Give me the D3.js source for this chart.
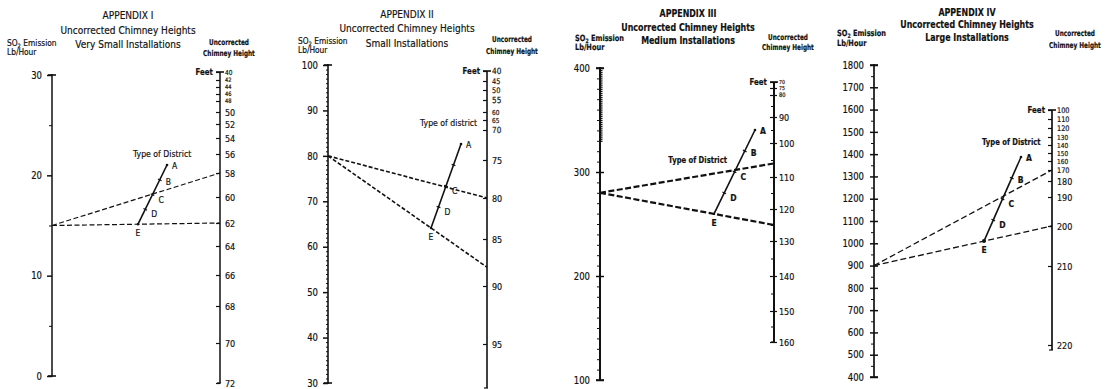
<!DOCTYPE html>
<html>
<head>
<meta charset="utf-8">
<script src="https://cdn.jsdelivr.net/npm/d3@7"></script>
<style>
  body { margin: 0; background: #fff; }
  text { font-family: 'DejaVu Sans', 'Liberation Sans', sans-serif; fill: #111; stroke: #111; stroke-width: 0.2px; }
</style>
</head>
<body>
<svg id="chart" width="1112" height="389"></svg>
<script>
const appendixNumbers = ['I', 'II', 'III', 'IV'];
const installationSizes = ['Very Small Installations', 'Small Installations', 'Medium Installations', 'Large Installations'];
const districtCaptions = ['Type of District', 'Type of district', 'Type of District', 'Type of District'];
const emissionTicks = [
  [0, 10, 20, 30],
  [30, 40, 50, 60, 70, 80, 90, 100],
  [100, 200, 300, 400],
  [400, 500, 600, 700, 800, 900, 1000, 1100, 1200, 1300, 1400, 1500, 1600, 1700, 1800]
];
const heightTicks = [
  [40, 42, 44, 46, 48, 50, 52, 54, 56, 58, 60, 62, 64, 66, 68, 70, 72],
  [40, 45, 50, 55, 60, 65, 70, 75, 80, 85, 90, 95],
  [70, 75, 80, 90, 100, 110, 120, 130, 140, 150, 160],
  [100, 110, 120, 130, 140, 150, 160, 170, 180, 190, 200, 210, 220]
];
const districtTypes = ['E', 'D', 'C', 'B', 'A'];
const districtLabels = [['A', 'B', 'C', 'D', 'E'], ['A', 'C', 'D', 'E'], ['A', 'B', 'C', 'D', 'E'], ['A', 'B', 'C', 'D', 'E']];
// worked example on each chart: one emission rate, read through district C and district E
const exampleEmission = [15, 80, 280, 900];
const exampleHeightC = [58, 80, 106, 170];
const exampleHeightE = [62, 88, 125, 200];

// ---- layout of each printed chart (pixels) ----
const panels = [
  { leftX: 52, emisRange: [376, 75], minorStep: 5, rightX: 220, rightEnd: 383,
    gradY: [72, 80, 87, 94, 101, 112, 124, 138, 154, 173, 197, 223, 246, 275, 306, 343, 383],
    titleX: 128, titleY: [19, 34, 48], emisX: 7, emisY: [46, 55], chimX: 229, chimY: [45, 56],
    distE: 138, distA: [167, 165], caption: [133, 157, 'start'], weight: 1.5, dash: '5,2.5', dashW: 1.2, bold: false },
  { leftX: 328, emisRange: [383, 65], minorStep: 1, rightX: 487, rightEnd: 388,
    gradY: [71, 81, 90, 100, 112, 120, 130, 160, 198, 239, 286, 344],
    titleX: 407, titleY: [18, 32, 47], emisX: 298, emisY: [44, 53], chimX: 512, chimY: [42, 54],
    distE: 431, distA: [461, 144], caption: [420, 126, 'start'], weight: 1.6, dash: '4,2', dashW: 1.6, bold: false },
  { leftX: 600, emisRange: [380, 68], minorStep: 10, rightX: 774, rightEnd: 342,
    gradY: [82, 88, 95, 117, 143, 177, 209, 241, 276, 311, 342],
    titleX: 688, titleY: [17, 31, 44], emisX: 575, emisY: [41, 50], chimX: 788, chimY: [40, 50],
    distE: 714, distA: [755, 130], caption: [727, 163, 'end'], weight: 2, dash: '6,2.5', dashW: 2.2, bold: true },
  { leftX: 874, emisRange: [377, 65], minorStep: 50, rightX: 1052, rightEnd: 350,
    gradY: [110, 119, 128, 137, 145, 153, 161, 170, 181, 197, 226, 266, 345],
    titleX: 967, titleY: [16, 28, 41], emisX: 837, emisY: [36, 46], chimX: 1075, chimY: [36, 48],
    distE: 984, distA: [1021, 157], caption: [982, 145, 'start'], weight: 1.7, dash: '6,3', dashW: 1.3, bold: true }
];

const svg = d3.select('#chart');
const ink = '#111';

// the printed lettering is condensed: squeeze text horizontally around its anchor
function narrow(sel, sx) {
  sel.each(function () {
    const t = d3.select(this);
    const x = +t.attr('x') || 0;
    t.attr('x', x / sx).attr('transform', `scale(${sx},1)`);
  });
}

panels.forEach((p, i) => {
  const g = svg.append('g');

  // scales: emission is linear, chimney height follows the printed graduation
  const emis = d3.scaleLinear().domain(d3.extent(emissionTicks[i])).range(p.emisRange);
  const height = d3.scaleLinear().domain(heightTicks[i]).range(p.gradY);

  // titles
  const titleLines = ['APPENDIX ' + appendixNumbers[i], 'Uncorrected Chimney Heights', installationSizes[i]];
  g.selectAll('.title').data(titleLines).join('text')
    .attr('x', p.titleX).attr('y', (d, k) => p.titleY[k])
    .attr('text-anchor', 'middle')
    .style('font-size', '11px')
    .style('font-weight', p.bold ? 'bold' : 'normal')
    .text(d => d)
    .call(narrow, p.bold ? 0.72 : 0.82);

  // left axis caption
  const so2 = g.append('text').attr('x', p.emisX).attr('y', p.emisY[0])
    .style('font-size', '8.5px').style('font-weight', p.bold ? 'bold' : 'normal');
  so2.append('tspan').text('SO');
  so2.append('tspan').attr('dy', 2).style('font-size', '6px').text('2');
  so2.append('tspan').attr('dy', -2).text(' Emission');
  so2.call(narrow, p.bold ? 0.78 : 0.88);
  g.append('text').attr('x', p.emisX).attr('y', p.emisY[1])
    .style('font-size', '8.5px').style('font-weight', p.bold ? 'bold' : 'normal').text('Lb/Hour')
    .call(narrow, p.bold ? 0.78 : 0.88);

  // right axis caption
  g.selectAll('.chim').data(['Uncorrected', 'Chimney Height']).join('text')
    .attr('x', p.chimX).attr('y', (d, k) => p.chimY[k])
    .attr('text-anchor', 'middle')
    .style('font-size', '8px').style('font-weight', 'bold')
    .text(d => d)
    .call(narrow, 0.72);

  // ---- emission axis ----
  const [lo, hi] = d3.extent(emissionTicks[i]);
  const minorVals = d3.range(lo, hi + 0.001, p.minorStep).filter(v => !emissionTicks[i].includes(v));
  const leftMinor = g.append('g').attr('transform', `translate(${p.leftX},0)`)
    .call(d3.axisLeft(emis).tickValues(minorVals).tickSize(p.minorStep === 1 ? 2 : 3).tickFormat('').tickSizeOuter(0));
  leftMinor.select('.domain').remove();
  leftMinor.selectAll('.tick line').attr('stroke', ink).attr('stroke-width', 1);
  if (i === 2) {
    // dense graduation at the top of the medium chart
    const dense = d3.range(330, 400, 2);
    g.append('g').attr('transform', `translate(${p.leftX},0)`)
      .call(d3.axisLeft(emis).tickValues(dense).tickSize(2).tickFormat('').tickSizeOuter(0))
      .call(a => a.select('.domain').remove())
      .selectAll('.tick line').attr('stroke', ink).attr('stroke-width', 1.3).attr('x2', 2.5);
  }

  const leftAxis = g.append('g').attr('transform', `translate(${p.leftX},0)`)
    .call(d3.axisLeft(emis).tickValues(emissionTicks[i]).tickFormat(d3.format('d'))
      .tickSize(5).tickPadding(5).tickSizeOuter(0));
  leftAxis.select('.domain').remove();
  leftAxis.selectAll('.tick line').attr('stroke', ink).attr('stroke-width', 1.5)
    .attr('x2', i >= 2 ? -4 : -5).attr('x1', i >= 2 ? 4 : 0);
  leftAxis.selectAll('.tick text').attr('fill', ink)
    .style('font-size', '10px').style('font-family', "'DejaVu Sans',sans-serif")
    .call(narrow, 0.85);

  g.append('line').attr('x1', p.leftX).attr('x2', p.leftX)
    .attr('y1', emis(hi) - 1).attr('y2', emis(lo) + 1)
    .attr('stroke', ink).attr('stroke-width', p.weight);
  [hi, lo].forEach(v => g.append('line')
    .attr('x1', p.leftX - 4).attr('x2', p.leftX + 4)
    .attr('y1', emis(v)).attr('y2', emis(v))
    .attr('stroke', ink).attr('stroke-width', 1.6));

  // ---- chimney height axis ----
  const hv = heightTicks[i];
  const gap = hv.map((v, k) => Math.min(
    k > 0 ? height(v) - height(hv[k - 1]) : 99,
    k < hv.length - 1 ? height(hv[k + 1]) - height(v) : 99));
  const rightAxis = g.append('g').attr('transform', `translate(${p.rightX},0)`)
    .call(d3.axisRight(height).tickValues(hv).tickSizeInner(-4).tickPadding(5).tickSizeOuter(0));
  rightAxis.select('.domain').remove();
  rightAxis.selectAll('.tick line').attr('stroke', ink).attr('stroke-width', 1.2)
    .attr('x1', i === 2 ? 3 : 0);
  rightAxis.selectAll('.tick text').attr('fill', ink)
    .style('font-family', "'DejaVu Sans',sans-serif")
    .style('font-size', (d, k) => Math.max(5.5, Math.min(9.5, gap[k] * 0.86)) + 'px')
    .call(narrow, 0.85);
  if (i === 2) {
    const mids = d3.range(85, 160, 10);
    g.append('g').attr('transform', `translate(${p.rightX},0)`)
      .call(d3.axisRight(height).tickValues(mids).tickSizeInner(-3).tickFormat('').tickSizeOuter(0))
      .call(a => a.select('.domain').remove())
      .selectAll('.tick line').attr('stroke', ink);
  }

  const topY = height(hv[0]);
  g.append('line').attr('x1', p.rightX).attr('x2', p.rightX)
    .attr('y1', topY).attr('y2', p.rightEnd)
    .attr('stroke', ink).attr('stroke-width', p.weight);
  g.append('line').attr('x1', p.rightX - 4).attr('x2', p.rightX + 4)
    .attr('y1', topY).attr('y2', topY).attr('stroke', ink).attr('stroke-width', 1.6);
  g.append('line').attr('x1', p.rightX - 3).attr('x2', p.rightX + 1)
    .attr('y1', p.rightEnd).attr('y2', p.rightEnd).attr('stroke', ink).attr('stroke-width', 1.2);
  g.append('text').attr('x', p.rightX - 7).attr('y', topY + 3)
    .attr('text-anchor', 'end').style('font-size', '9px').style('font-weight', 'bold').text('Feet')
    .call(narrow, 0.78);

  // ---- worked example: emission -> district -> height ----
  const start = [p.leftX, emis(exampleEmission[i])];
  const endC = [p.rightX, height(exampleHeightC[i])];
  const endE = [p.rightX, height(exampleHeightE[i])];
  const line = d3.line();
  [endC, endE].forEach(end => g.append('path')
    .attr('d', line([start, end]))
    .attr('fill', 'none').attr('stroke', ink)
    .attr('stroke-width', p.dashW).attr('stroke-dasharray', p.dash));

  // district scale sits on the slanted segment E..A
  const tE = (p.distE - start[0]) / (endE[0] - start[0]);
  const ptE = [p.distE, start[1] + tE * (endE[1] - start[1])];
  const ptA = p.distA;
  const dist = d3.scalePoint().domain(districtTypes).range([0, 1]);
  const along = d3.interpolate(ptE, ptA);
  g.append('path').attr('d', line([ptE, ptA]))
    .attr('stroke', ink).attr('stroke-width', 1.6).attr('fill', 'none');
  const dx = ptA[0] - ptE[0], dy = ptA[1] - ptE[1], len = Math.hypot(dx, dy);
  const nx = -dy / len, ny = dx / len;
  ['D', 'C', 'B'].forEach(k => {
    const [x, y] = along(dist(k));
    g.append('line').attr('x1', x - nx * 2).attr('y1', y - ny * 2)
      .attr('x2', x + nx * 2).attr('y2', y + ny * 2)
      .attr('stroke', ink).attr('stroke-width', 1.2);
  });
  g.append('circle').attr('cx', ptE[0]).attr('cy', ptE[1]).attr('r', i === 3 ? 2 : 1.2).attr('fill', ink);
  g.append('circle').attr('cx', ptA[0]).attr('cy', ptA[1]).attr('r', 1.3).attr('fill', ink);

  g.selectAll('.dl').data(districtLabels[i]).join('text')
    .attr('x', d => along(dist(d))[0] + (d === 'E' ? 0 : d === 'A' ? 5 : 6))
    .attr('y', d => along(dist(d))[1] + (d === 'E' ? 12 : d === 'A' ? 4 : d === 'B' ? 5 : 8))
    .attr('text-anchor', d => d === 'E' ? 'middle' : 'start')
    .style('font-size', '9px').style('font-weight', p.bold ? 'bold' : 'normal')
    .text(d => d)
    .call(narrow, 0.85);

  g.append('text').attr('x', p.caption[0]).attr('y', p.caption[1])
    .attr('text-anchor', p.caption[2])
    .style('font-size', '9.5px').style('font-weight', p.bold ? 'bold' : 'normal')
    .text(districtCaptions[i])
    .call(narrow, p.bold ? 0.72 : 0.82);
});
</script>
</body>
</html>
